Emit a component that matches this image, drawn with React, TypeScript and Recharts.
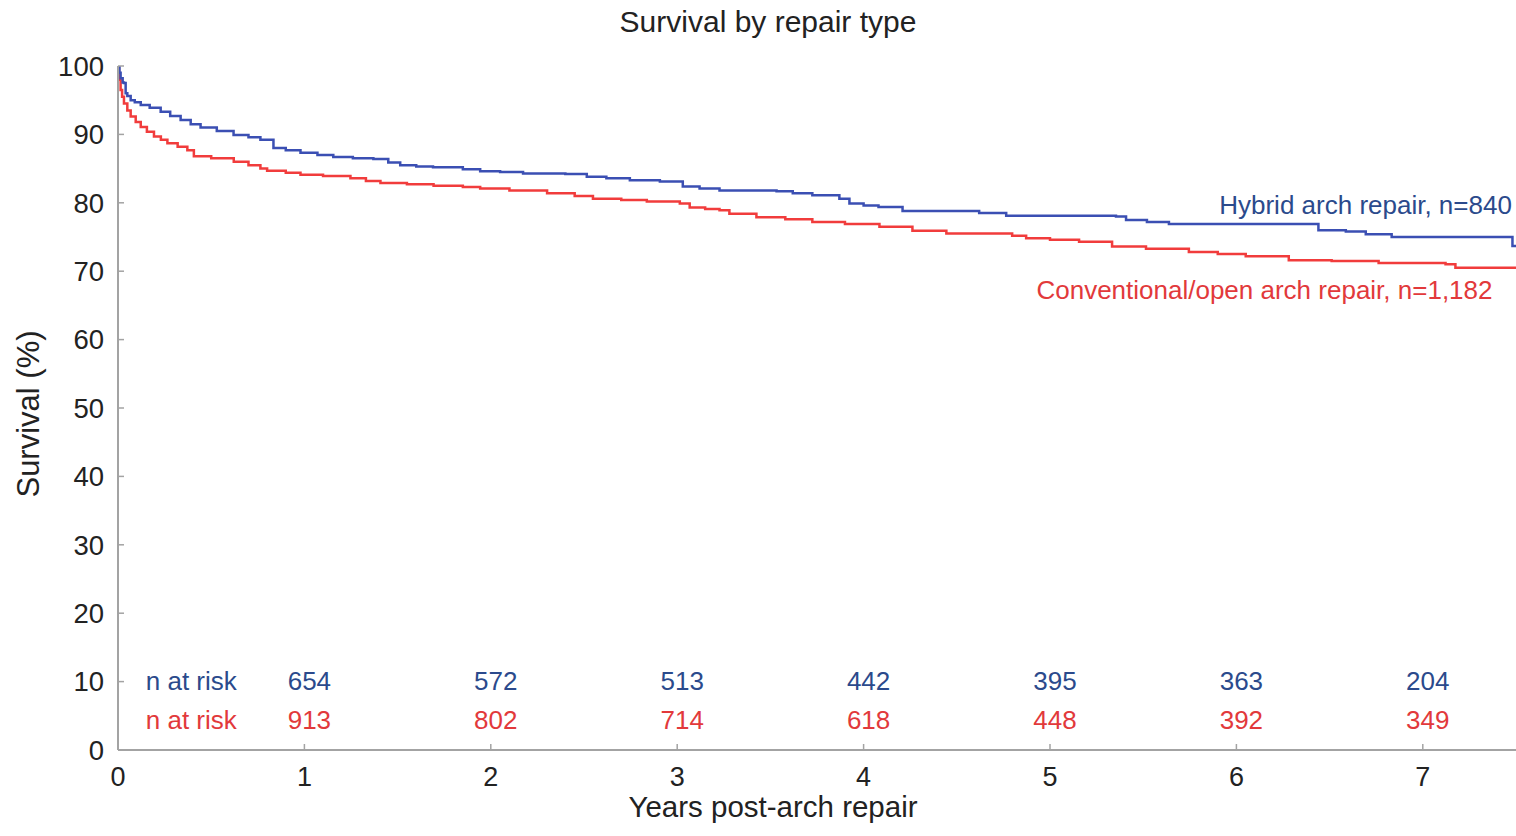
import React from 'react';
import { ComposedChart, Line, Scatter, XAxis, YAxis } from 'recharts';

// Kaplan-Meier curves (years, survival %)
const hybridT = [0, 0.008, 0.014, 0.025, 0.032, 0.041, 0.05, 0.068, 0.09, 0.122, 0.17, 0.229, 0.28, 0.336, 0.39, 0.443, 0.53, 0.62, 0.7, 0.764, 0.834, 0.9, 0.979, 1.07, 1.155, 1.26, 1.37, 1.45, 1.514, 1.6, 1.69, 1.85, 1.943, 2.05, 2.173, 2.4, 2.515, 2.62, 2.746, 2.907, 3.03, 3.12, 3.227, 3.533, 3.62, 3.725, 3.87, 3.924, 4.0, 4.08, 4.209, 4.62, 4.765, 5.354, 5.408, 5.52, 5.638, 6.44, 6.587, 6.694, 6.833, 7.481, 7.5];
const hybridS = [100, 99.0, 98.2, 97.6, 97.5, 96.0, 95.6, 95.0, 94.7, 94.3, 93.9, 93.3, 92.7, 92.1, 91.5, 91.0, 90.5, 89.9, 89.6, 89.2, 88.0, 87.7, 87.3, 87.0, 86.7, 86.5, 86.4, 85.9, 85.5, 85.3, 85.2, 84.9, 84.6, 84.5, 84.3, 84.2, 83.8, 83.6, 83.3, 83.1, 82.4, 82.1, 81.8, 81.7, 81.4, 81.1, 80.6, 79.9, 79.6, 79.4, 78.8, 78.5, 78.1, 78.0, 77.5, 77.2, 76.9, 76.0, 75.8, 75.4, 75.0, 73.7, 73.7];

const openT = [0, 0.005, 0.014, 0.022, 0.032, 0.05, 0.068, 0.095, 0.122, 0.155, 0.193, 0.23, 0.265, 0.32, 0.372, 0.407, 0.5, 0.621, 0.7, 0.764, 0.8, 0.9, 0.979, 1.1, 1.247, 1.33, 1.408, 1.55, 1.693, 1.85, 1.943, 2.1, 2.302, 2.45, 2.548, 2.7, 2.837, 3.014, 3.067, 3.15, 3.227, 3.28, 3.425, 3.58, 3.725, 3.9, 4.085, 4.262, 4.444, 4.797, 4.872, 5.0, 5.156, 5.333, 5.515, 5.745, 5.9, 6.05, 6.281, 6.511, 6.763, 7.122, 7.175, 7.5];
const openS = [100, 98.0, 96.5, 95.5, 94.5, 93.5, 92.6, 91.8, 91.1, 90.4, 89.7, 89.2, 88.7, 88.2, 87.7, 86.8, 86.5, 86.0, 85.5, 85.0, 84.7, 84.4, 84.1, 83.9, 83.6, 83.2, 82.9, 82.7, 82.5, 82.3, 82.1, 81.8, 81.4, 81.0, 80.6, 80.4, 80.2, 79.9, 79.3, 79.1, 78.9, 78.4, 77.9, 77.6, 77.2, 76.9, 76.5, 75.9, 75.5, 75.2, 74.8, 74.6, 74.3, 73.6, 73.3, 72.8, 72.5, 72.2, 71.6, 71.5, 71.2, 71.0, 70.5, 70.5];

// Numbers at risk
const riskYears = [1, 2, 3, 4, 5, 6, 7];
const hybridRisk = [654, 572, 513, 442, 395, 363, 204];
const openRisk = [913, 802, 714, 618, 448, 392, 349];
const riskLabel = 'n at risk';

const xTicks = [0, 1, 2, 3, 4, 5, 6, 7];
const yTicks = [0, 10, 20, 30, 40, 50, 60, 70, 80, 90, 100];

const title = 'Survival by repair type';
const xTitle = 'Years post-arch repair';
const yTitle = 'Survival (%)';
const hybridName = 'Hybrid arch repair, n=840';
const openName = 'Conventional/open arch repair, n=1,182';

const BLUE_LINE = '#3b4fb3';
const RED_LINE = '#f13c3c';
const BLUE_TEXT = '#2b4a8c';
const RED_TEXT = '#e2393b';
const FONT = '"Liberation Sans", Arial, Helvetica, sans-serif';

const hybridData = hybridT.map((t, i) => ({ t, v: hybridS[i] }));
const openData = openT.map((t, i) => ({ t, v: openS[i] }));

// text rows (positions in data units)
const blueRowV = 10.1;
const redRowV = 4.5;
const labelT = 0.149;
const hybridTextData = [
  { t: labelT, v: blueRowV, text: riskLabel, anchor: 'start', dx: 0 },
  ...riskYears.map((t, i) => ({ t, v: blueRowV, text: String(hybridRisk[i]), anchor: 'middle', dx: 5 })),
  { t: 7.478, v: 79.8, text: hybridName, anchor: 'end', dx: 0 },
];
const openTextData = [
  { t: labelT, v: redRowV, text: riskLabel, anchor: 'start', dx: 0 },
  ...riskYears.map((t, i) => ({ t, v: redRowV, text: String(openRisk[i]), anchor: 'middle', dx: 5 })),
  { t: 7.374, v: 67.3, text: openName, anchor: 'end', dx: 0 },
];

const makeTextShape = (color: string) => (props: any) => {
  const { cx, cy, payload } = props;
  if (cx == null || cy == null) return <g />;
  return (
    <text
      x={cx + (payload.dx || 0)}
      y={cy}
      dy="0.36em"
      textAnchor={payload.anchor}
      fill={color}
      fontSize={26}
      fontFamily={FONT}
    >
      {payload.text}
    </text>
  );
};

export default function App() {
  return (
    <div style={{ position: 'absolute', left: 0, top: 0, width: 1516, height: 836, background: '#fff' }}>
      <ComposedChart
        width={1516}
        height={836}
        margin={{ top: 66, right: 0, bottom: 0, left: 0 }}
        style={{ fontFamily: FONT }}
      >
        <XAxis
          type="number"
          dataKey="t"
          domain={[0, 7.5]}
          ticks={xTicks}
          allowDataOverflow
          height={86}
          tickSize={-6}
          tickMargin={23}
          axisLine={{ stroke: '#a3a3a3', strokeWidth: 2 }}
          tickLine={{ stroke: '#a3a3a3', strokeWidth: 1.5 }}
          tick={{ fill: '#222', fontSize: 27, fontFamily: FONT }}
        />
        <YAxis
          type="number"
          domain={[0, 100]}
          ticks={yTicks}
          allowDataOverflow
          width={118}
          tickSize={-6}
          tickMargin={20}
          axisLine={{ stroke: '#a3a3a3', strokeWidth: 2 }}
          tickLine={{ stroke: '#a3a3a3', strokeWidth: 1.5 }}
          tick={{ fill: '#222', fontSize: 27.5, fontFamily: FONT }}
        />
        <Line
          data={openData}
          dataKey="v"
          type="stepAfter"
          stroke={RED_LINE}
          strokeWidth={2.5}
          dot={false}
          activeDot={false}
          isAnimationActive={false}
        />
        <Line
          data={hybridData}
          dataKey="v"
          type="stepAfter"
          stroke={BLUE_LINE}
          strokeWidth={2.5}
          dot={false}
          activeDot={false}
          isAnimationActive={false}
        />
        <Scatter
          data={hybridTextData}
          dataKey="v"
          shape={makeTextShape(BLUE_TEXT)}
          isAnimationActive={false}
        />
        <Scatter
          data={openTextData}
          dataKey="v"
          shape={makeTextShape(RED_TEXT)}
          isAnimationActive={false}
        />
      </ComposedChart>
      <svg
        width={1516}
        height={836}
        style={{ position: 'absolute', left: 0, top: 0, pointerEvents: 'none' }}
      >
        <text x={768} y={32} textAnchor="middle" fontSize={30} fill="#222" fontFamily={FONT}>
          {title}
        </text>
        <text x={773} y={817} textAnchor="middle" fontSize={29.5} fill="#222" fontFamily={FONT}>
          {xTitle}
        </text>
        <text
          x={0}
          y={0}
          transform="translate(39,414) rotate(-90)"
          textAnchor="middle"
          fontSize={31}
          fill="#222"
          fontFamily={FONT}
        >
          {yTitle}
        </text>
      </svg>
    </div>
  );
}
